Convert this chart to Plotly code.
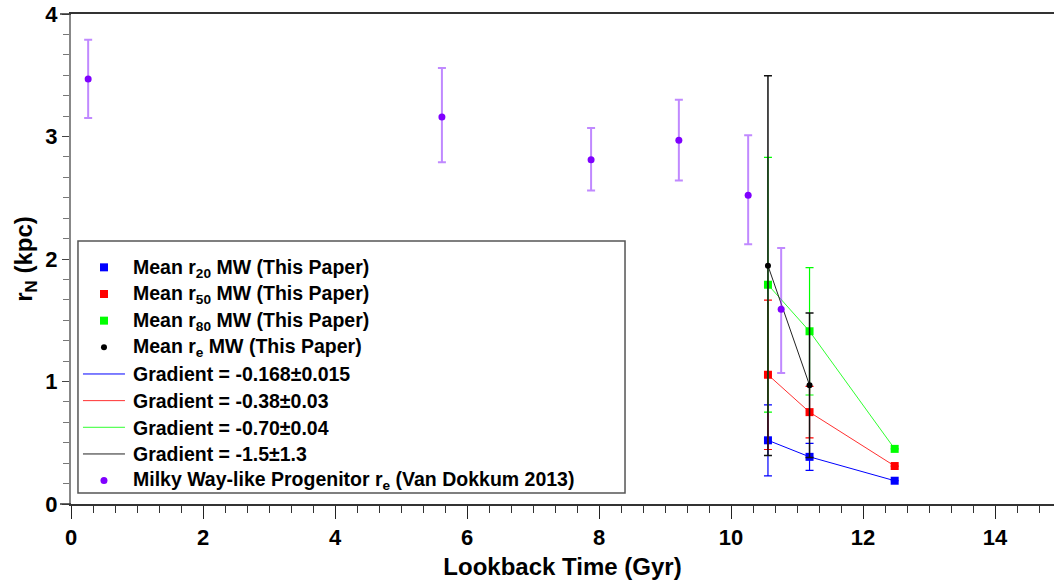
import plotly.graph_objects as go

# Lookback times (Gyr) of the three MW-progenitor bins
t_bins = [10.56, 11.19, 12.48]

# Mean radii (kpc) with symmetric errors (None = no error bar)
r20 = [0.52, 0.385, 0.19]
r20_err = [0.29, 0.11, None]
r50 = [1.055, 0.75, 0.31]
r50_err = [0.61, 0.21, None]
r80 = [1.79, 1.41, 0.45]
r80_err = [1.04, 0.52, None]

t_re = [10.56, 11.19]
re = [1.945, 0.97]
re_err = [1.55, 0.59]

# Milky Way-like progenitor effective radii (Van Dokkum 2013)
t_vd = [0.26, 5.62, 7.88, 9.21, 10.26, 10.76]
re_vd = [3.47, 3.16, 2.81, 2.97, 2.52, 1.59]
re_vd_up = [0.32, 0.40, 0.26, 0.33, 0.49, 0.50]
re_vd_lo = [0.32, 0.37, 0.25, 0.33, 0.40, 0.52]

legend_labels = [
    "Mean r<sub>20</sub> MW (This Paper)",
    "Mean r<sub>50</sub> MW (This Paper)",
    "Mean r<sub>80</sub> MW (This Paper)",
    "Mean r<sub>e</sub> MW (This Paper)",
    "Gradient = -0.168±0.015",
    "Gradient = -0.38±0.03",
    "Gradient = -0.70±0.04",
    "Gradient = -1.5±1.3",
    "Milky Way-like Progenitor r<sub>e</sub> (Van Dokkum 2013)",
]

FONT = "Liberation Sans, Arial, Helvetica, sans-serif"

fig = go.Figure()

# connecting lines (drawn first, listed after the means in the legend)
line_specs = [
    (t_bins, r20, "#0000ff", 5),
    (t_bins, r50, "#ff3030", 6),
    (t_bins, r80, "#30ff30", 7),
    (t_re, re, "#222222", 8),
]
for xs, ys, col, rank in line_specs:
    fig.add_trace(go.Scatter(
        x=xs, y=ys, mode="lines", name="", showlegend=True,
        line=dict(color=col, width=1), legendrank=rank,
    ))

# Van Dokkum progenitors
fig.add_trace(go.Scatter(
    x=t_vd, y=re_vd, mode="markers", name="", showlegend=True,
    marker=dict(color="#7f00ff", size=7, symbol="circle"),
    error_y=dict(type="data", symmetric=False, array=re_vd_up, arrayminus=re_vd_lo,
                 color="rgba(140,40,255,0.55)", thickness=2, width=4),
    legendrank=9,
))

mean_specs = [
    (t_bins, r20, r20_err, "#0000ff", 1),
    (t_bins, r50, r50_err, "#ff0000", 2),
    (t_bins, r80, r80_err, "#00ff00", 3),
]
for xs, ys, err, col, rank in mean_specs:
    fig.add_trace(go.Scatter(
        x=xs, y=ys, mode="markers", name="", showlegend=True,
        marker=dict(color=col, size=8, symbol="square"),
        error_y=dict(type="data", array=err, color=col, thickness=1.2, width=4),
        legendrank=rank,
    ))

fig.add_trace(go.Scatter(
    x=t_re, y=re, mode="markers", name="", showlegend=True,
    marker=dict(color="#000000", size=6, symbol="circle"),
    error_y=dict(type="data", array=re_err, color="#111111", thickness=1.5, width=4),
    legendrank=4,
))

tick_font = dict(family=FONT, size=22, color="black", weight="bold")
title_font = dict(family=FONT, size=24, color="black", weight="bold")

fig.update_xaxes(
    range=[0, 14.894], dtick=2, tick0=0,
    ticks="outside", ticklen=13, tickwidth=1.2, tickcolor="#222",
    minor=dict(dtick=2 / 6, ticks="outside", ticklen=7, tickwidth=1, tickcolor="#333"),
    showline=True, linecolor="#333", linewidth=1.5, mirror=True,
    showgrid=False, zeroline=False,
    tickfont=tick_font,
    title=dict(text="Lookback Time (Gyr)", font=title_font, standoff=9),
)
fig.update_yaxes(
    range=[0, 4], dtick=1, tick0=0,
    ticks="outside", ticklen=7, tickwidth=1.2, tickcolor="#444",
    minor=dict(dtick=1 / 6, ticks="outside", ticklen=6, tickwidth=1, tickcolor="#777"),
    showline=True, linecolor="#888", linewidth=2, mirror=False,
    showgrid=False, zeroline=False,
    tickfont=tick_font,
    title=dict(text="r<sub>N</sub> (kpc)", font=title_font, standoff=6),
)

# short extensions of the bottom and top frame lines left of the y axis
for yv in (0, 1):
    fig.add_shape(type="line", xref="paper", yref="paper",
                  x0=-0.0112, x1=0, y0=yv, y1=yv,
                  line=dict(color="#333", width=1.5))

# legend frame
fig.add_shape(type="rect", xref="paper", yref="paper", layer="below",
              x0=0.0071, x1=0.5636, y0=0.0224, y1=0.5367,
              fillcolor="white", line=dict(color="#555", width=1.5))

# legend labels, one per legend row
PLOT_W, PLOT_H, ML, MT = 983, 490, 71, 14
row0, row_step = 268, 26.6
for i, label in enumerate(legend_labels):
    ypix = row0 + row_step * i
    fig.add_annotation(
        xref="paper", yref="paper",
        x=(131 - ML) / PLOT_W, y=(MT + PLOT_H - ypix) / PLOT_H,
        xanchor="left", yanchor="middle", showarrow=False,
        text=label, align="left",
        font=dict(family=FONT, size=19.5, color="black", weight="bold"),
    )

fig.update_layout(
    width=1054, height=586,
    margin=dict(l=ML, r=0, t=MT, b=82),
    paper_bgcolor="white", plot_bgcolor="white",
    showlegend=True,
    legend=dict(
        x=0.0071, y=0.5204, xanchor="left", yanchor="top",
        bgcolor="rgba(0,0,0,0)", borderwidth=0,
        itemwidth=42,
        font=dict(family=FONT, size=18.2, color="black"),
        traceorder="normal",
    ),
)

fig.write_html("out.html")
